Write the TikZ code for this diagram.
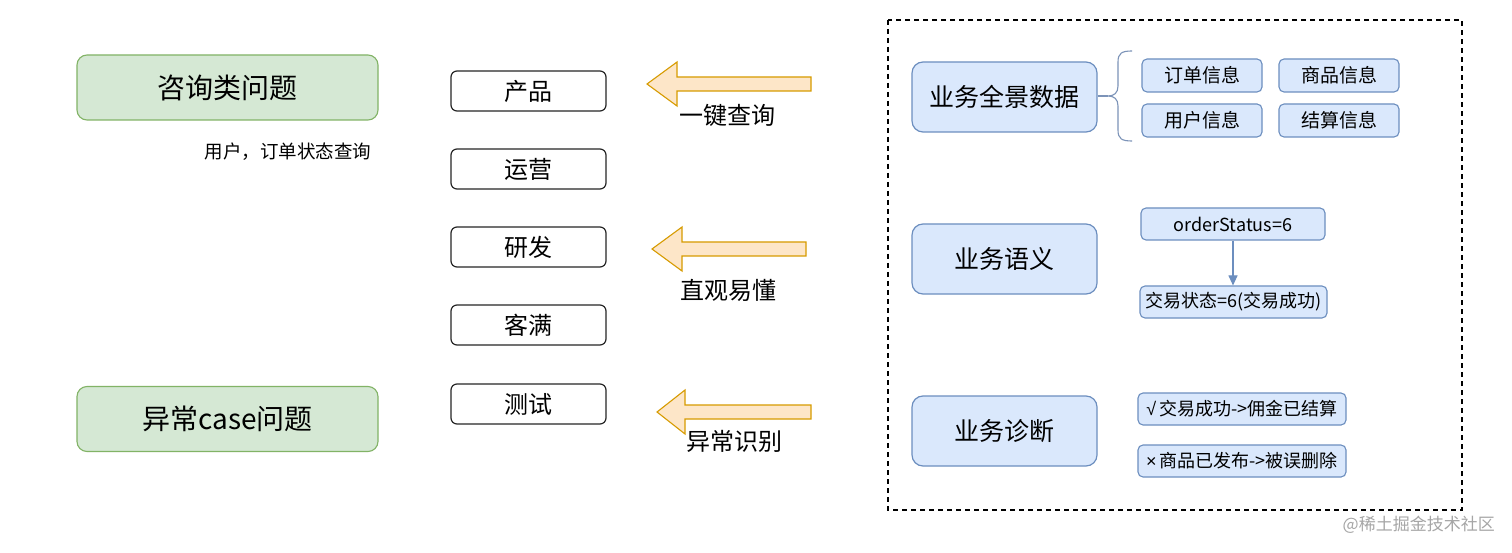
\documentclass[tikz,border=0pt]{standalone}
\usepackage{fontspec}
\setmainfont{Noto Sans CJK SC}
\newfontfamily\symfont{Liberation Sans}
\usetikzlibrary{arrows.meta}
\definecolor{gfill}{HTML}{D5E8D4}
\definecolor{gline}{HTML}{82B366}
\definecolor{bfill}{HTML}{DAE8FC}
\definecolor{bline}{HTML}{6C8EBF}
\definecolor{afill}{HTML}{FDE6C8}
\definecolor{aline}{HTML}{D79B00}
\definecolor{brc}{HTML}{7C93B8}
\tikzset{
  greenbox/.style={draw=gline, fill=gfill, line width=1.1pt, rounded corners=10pt, minimum width=301pt, minimum height=65pt, inner sep=0pt, font=\fontsize{28}{32}\selectfont},
  rolebox/.style={draw=black!85, fill=white, line width=1.2pt, rounded corners=6pt, minimum width=155pt, minimum height=40pt, inner sep=0pt, font=\fontsize{24}{28}\selectfont},
  bigblue/.style={draw=bline, fill=bfill, line width=1.2pt, rounded corners=11pt, minimum width=185pt, minimum height=70pt, inner sep=0pt, font=\fontsize{25}{29}\selectfont},
  smallblue/.style={draw=bline, fill=bfill, line width=1.1pt, rounded corners=5pt, minimum width=120pt, minimum height=33pt, inner sep=0pt, font=\fontsize{19}{22}\selectfont},
  fatarrow/.style={draw=aline, fill=afill, line width=1.1pt, line join=miter},
  arrowlabel/.style={inner sep=0pt, font=\fontsize{24}{28}\selectfont},
  notetext/.style={inner sep=0pt, font=\fontsize{18.5}{22}\selectfont},
}
\newcommand\myfatarrow[4]{% tip x, y, head base x, tail x
  \path[fatarrow] (#1,#2) -- (#3,#2-22) -- (#3,#2-7) -- (#4,#2-7) -- (#4,#2+7) -- (#3,#2+7) -- (#3,#2+22) -- cycle;}
\begin{document}
\begin{tikzpicture}[x=1pt,y=-1pt]
\useasboundingbox (0,0) rectangle (1512,553);
\fill[white] (0,0) rectangle (1512,553);

% left column
\node[greenbox] (q1) at (227.5,87.5) {咨询类问题};
\node[greenbox] (q2) at (227.5,419) {异常case问题};
\node[notetext] (note) at (288,152) {用户，订单状态查询};

% roles
\node[rolebox] (r1) at (528.5,91) {产品};
\node[rolebox] (r2) at (528.5,169) {运营};
\node[rolebox] (r3) at (528.5,247) {研发};
\node[rolebox] (r4) at (528.5,325) {客满};
\node[rolebox] (r5) at (528.5,404) {测试};

% fat arrows
\myfatarrow{647}{84}{677}{811}
\myfatarrow{652}{249}{682}{806}
\myfatarrow{657}{412}{685}{811}
\node[arrowlabel] (l1) at (727,115) {一键查询};
\node[arrowlabel] (l2) at (728,290) {直观易懂};
\node[arrowlabel] (l3) at (734,441) {异常识别};

% dashed frame
\draw[dashed, line width=1.2pt, dash pattern=on 5pt off 4pt] (888,20) rectangle (1462,510);

% blue blocks
\node[bigblue] (b1) at (1004.5,97) {业务全景数据};
\node[bigblue] (b2) at (1004.5,259) {业务语义};
\node[bigblue] (b3) at (1004.5,431) {业务诊断};

\node[smallblue] (s1) at (1202,75.5) {订单信息};
\node[smallblue] (s2) at (1339,75.5) {商品信息};
\node[smallblue] (s3) at (1202,120.5) {用户信息};
\node[smallblue] (s4) at (1339,120.5) {结算信息};

% brace
\coordinate (bt) at (1108,96);
\draw[brc, line width=1.1pt] (b1.east |- bt) -- (bt);
\draw[brc, line width=1.1pt] (1132,51) .. controls (1122,51) and (1118,53) .. (1118,62) -- (1118,86) .. controls (1118,93) and (1114,96) .. (bt)
  .. controls (1114,96) and (1118,99) .. (1118,106) -- (1118,130) .. controls (1118,139) and (1122,141) .. (1132,141);

\node[smallblue, minimum width=184pt, minimum height=32pt, font=\fontsize{18}{21}\selectfont] (o1) at (1233,224) {orderStatus=6};
\node[smallblue, minimum width=187pt, minimum height=32pt, font=\fontsize{18}{21}\selectfont] (o2) at (1233.5,302) {交易状态=6(交易成功)};
\draw[bline, line width=1.1pt, -{Triangle[length=10pt,width=9pt]}] (o1.south) -- (o1.south |- o2.north);

\node[smallblue, minimum width=208pt, minimum height=32pt, font=\fontsize{18}{21}\selectfont] (d1) at (1242,409) {{\symfont √}\,交易成功->佣金已结算};
\node[smallblue, minimum width=208pt, minimum height=32pt, font=\fontsize{18}{21}\selectfont] (d2) at (1242,461) {{\symfont ×}\,商品已发布->被误删除};

% watermark
\node[inner sep=0pt, anchor=east, text=black!35, font=\fontsize{17}{20}\selectfont] (wm) at (1495,525) {@稀土掘金技术社区};
\end{tikzpicture}
\end{document}
